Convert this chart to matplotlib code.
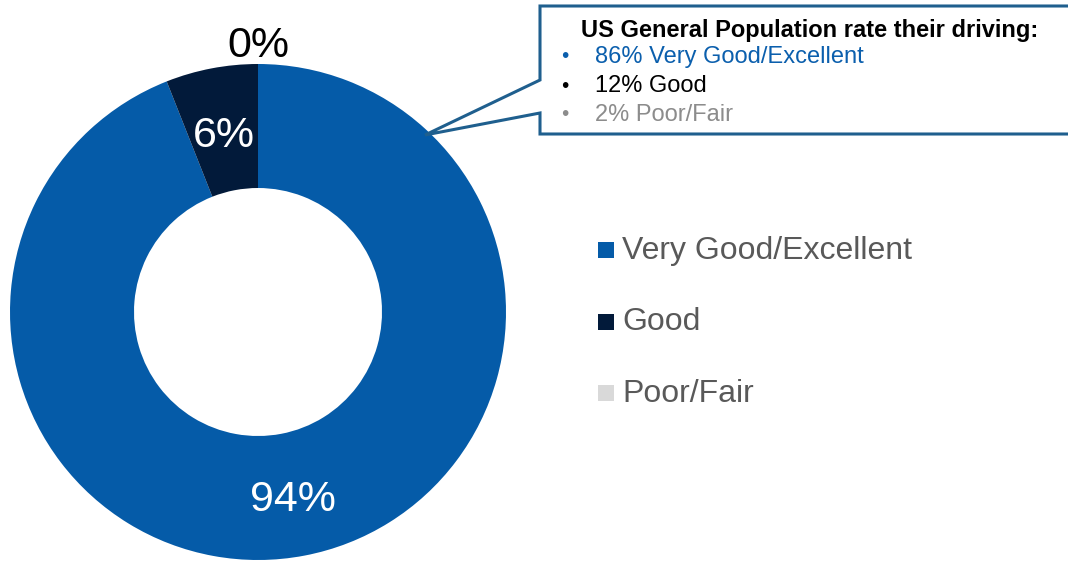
import numpy as np
import matplotlib.pyplot as plt
from matplotlib.patches import Polygon

plt.rcParams["font.family"] = ["Liberation Sans", "DejaVu Sans"]

categories = ["Very Good/Excellent", "Good", "Poor/Fair"]
shares = [94, 6, 0]
pct_labels = ["94%", "6%", "0%"]
colors = ["#055ba8", "#021a3a", "#d9d9d9"]
label_colors = ["white", "white", "black"]
label_dist = [0.755, 0.74, 1.09]

callout_title = "US General Population rate their driving:"
callout_lines = ["86% Very Good/Excellent", "12% Good", "2% Poor/Fair"]
callout_colors = ["#0b5fad", "black", "#8c8c8c"]

W, H = 1068, 563
fig = plt.figure(figsize=(W / 100, H / 100), dpi=100)

# donut: centre (258, 312) px, outer radius 248 px
cx, cy, R = 258, 312, 248
ax = fig.add_axes([(cx - R) / W, (H - cy - R) / H, 2 * R / W, 2 * R / H])
wedges, _ = ax.pie(shares, colors=colors, startangle=90, counterclock=False,
                   radius=1.0, wedgeprops=dict(width=0.5, edgecolor="none"))
ax.set_xlim(-1, 1)
ax.set_ylim(-1, 1)
ax.set_aspect("equal")
ax.axis("off")

for w, lab, c, d in zip(wedges, pct_labels, label_colors, label_dist):
    mid = np.deg2rad((w.theta1 + w.theta2) / 2)
    ax.text(d * np.cos(mid), d * np.sin(mid), lab, ha="center",
            va="center_baseline", fontsize=31, color=c, clip_on=False)

# overlay in pixel coordinates
ov = fig.add_axes([0, 0, 1, 1], facecolor="none")
ov.set_xlim(0, W)
ov.set_ylim(H, 0)
ov.axis("off")

box = Polygon([(540, 6), (1075, 6), (1075, 134), (540, 134), (540, 113),
               (425, 135), (540, 80)], closed=True, facecolor="white",
              edgecolor="#1f5f8e", linewidth=2.2)
ov.add_patch(box)
ov.text(810, 30, callout_title, ha="center", va="center", fontsize=17,
        fontweight="bold", color="black")
for i, (t, c) in enumerate(zip(callout_lines, callout_colors)):
    y = 57 + i * 29
    ov.text(565, y, "\u2022", ha="center", va="center", fontsize=15, color=c)
    ov.text(595, y, t, ha="left", va="center", fontsize=17, color=c)

# legend
for i, (cat, c) in enumerate(zip(categories, colors)):
    y = 250 + i * 71.5
    ov.add_patch(plt.Rectangle((598, y - 8), 16, 16, facecolor=c, edgecolor="none"))
    ov.text(622, y + 1, cat, ha="left", va="center", fontsize=23, color="#595959")

fig.savefig("out.png", dpi=100)
